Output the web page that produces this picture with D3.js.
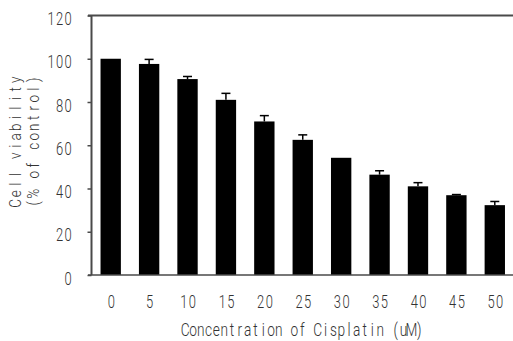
<!DOCTYPE html>
<html>
<head>
<meta charset="utf-8">
<script src="https://cdn.jsdelivr.net/npm/d3@7/dist/d3.min.js"></script>
<style>
  html, body { margin: 0; padding: 0; background: #fff; }
  svg { display: block; }
  text { font-family: Roboto, "Liberation Sans", sans-serif; font-weight: 300; fill: #333; }
</style>
</head>
<body>
<svg id="chart" width="513" height="341"></svg>
<script>
// Cisplatin concentration (uM) and mean cell viability (% of control) with SD
const concentrations = ["0", "5", "10", "15", "20", "25", "30", "35", "40", "45", "50"];
const viability = [100, 97.6, 90.6, 81.0, 71.0, 62.5, 54.2, 46.4, 41.0, 36.9, 32.3];
const errors = [0, 2.1, 1.2, 3.0, 2.7, 2.3, 0, 1.8, 1.7, 0.3, 1.7];
const yTicks = [0, 20, 40, 60, 80, 100, 120];

const xTitle = "Concentration of Cisplatin (uM)";
const yTitleLines = ["Cell viability", "(% of control)"];

const data = concentrations.map((c, i) => ({ c, v: viability[i], e: errors[i] }));

const svg = d3.select("#chart");
const plotLeft = 91.5, plotRight = 514, plotTop = 15.5, plotBottom = 275;

const x = d3.scaleBand()
  .domain(concentrations)
  .range([plotLeft, plotRight])
  .paddingInner(0.47)
  .paddingOuter(0.235);

const y = d3.scaleLinear().domain([0, 120]).range([plotBottom, plotTop]);

const axisColor = "#4a4a4a";

// Lay characters out on a fixed pitch (monospaced look) with narrowed glyphs.
// Each absolute x starts its own chunk, so text-anchor "middle" centres every glyph in its cell.
function monoCenters(str, pitch, offset) {
  const n = str.length;
  return Array.from(str, (_, i) => offset + (i - (n - 1) / 2) * pitch);
}
function setMono(sel, str, pitch, squeeze, offset = 0) {
  sel.attr("text-anchor", "middle")
    .attr("transform", `scale(${squeeze},1)`)
    .attr("x", monoCenters(str, pitch, offset).map(v => (v / squeeze).toFixed(2)).join(" "));
}

// bars
svg.append("g").selectAll("rect")
  .data(data)
  .join("rect")
  .attr("x", d => x(d.c))
  .attr("y", d => y(d.v))
  .attr("width", x.bandwidth())
  .attr("height", d => y(0) - y(d.v))
  .attr("fill", "#000");

// upper error bars
const eb = svg.append("g").attr("stroke", "#000").attr("stroke-width", 1.5);
data.filter(d => d.e > 0).forEach(d => {
  const cx = x(d.c) + x.bandwidth() / 2;
  eb.append("line").attr("x1", cx).attr("x2", cx).attr("y1", y(d.v)).attr("y2", y(d.v + d.e));
  eb.append("line").attr("x1", cx - 4.5).attr("x2", cx + 4.5).attr("y1", y(d.v + d.e)).attr("y2", y(d.v + d.e));
});

const digitPitch = 8.6, digitSqueeze = 0.72;

// y axis
const yAxis = svg.append("g")
  .attr("transform", `translate(${plotLeft},0)`)
  .call(d3.axisLeft(y).tickValues(yTicks).tickSize(4).tickSizeOuter(0));
yAxis.select(".domain").remove();
yAxis.selectAll(".tick line").attr("stroke", axisColor).attr("stroke-width", 1.5);
yAxis.selectAll(".tick text")
  .attr("font-size", 18)
  .attr("font-family", null)
  .attr("dy", "0.5em")
  .each(function(d) {
    const s = String(d);
    // right-most glyph centred 23.3px left of the axis
    const offset = -23.3 - (s.length - 1) / 2 * digitPitch;
    setMono(d3.select(this), s, digitPitch, digitSqueeze, offset);
  });

// x axis
const xAxis = svg.append("g")
  .attr("transform", `translate(0,${plotBottom})`)
  .call(d3.axisBottom(x).tickSize(0).tickPadding(20));
xAxis.select(".domain").remove();
xAxis.selectAll(".tick text")
  .attr("font-size", 18)
  .attr("font-family", null)
  .each(function(d) {
    setMono(d3.select(this), String(d), digitPitch, digitSqueeze, 0.6);
  });

// frame lines: left axis, baseline and top border
svg.append("line").attr("x1", plotLeft).attr("x2", plotLeft).attr("y1", plotTop).attr("y2", plotBottom)
  .attr("stroke", axisColor).attr("stroke-width", 2);
svg.append("line").attr("x1", plotLeft - 3.5).attr("x2", 513).attr("y1", plotBottom).attr("y2", plotBottom)
  .attr("stroke", axisColor).attr("stroke-width", 1.5);
svg.append("line").attr("x1", plotLeft - 3.5).attr("x2", 513).attr("y1", plotTop).attr("y2", plotTop)
  .attr("stroke", axisColor).attr("stroke-width", 2);

// x axis title
const xt = svg.append("g").attr("transform", "translate(302.2,335.5)")
  .append("text").attr("font-size", 18.5).text(xTitle);
setMono(xt, xTitle, 7.8, 0.74);

// y axis title, two rotated lines
const yTitleX = [20.8, 38.8];
yTitleLines.forEach((line, i) => {
  const t = svg.append("g")
    .attr("transform", `translate(${yTitleX[i]},141.5) rotate(-90)`)
    .append("text").attr("font-size", 16.5).text(line);
  setMono(t, line, 9.5, 0.82);
});
</script>
</body>
</html>
